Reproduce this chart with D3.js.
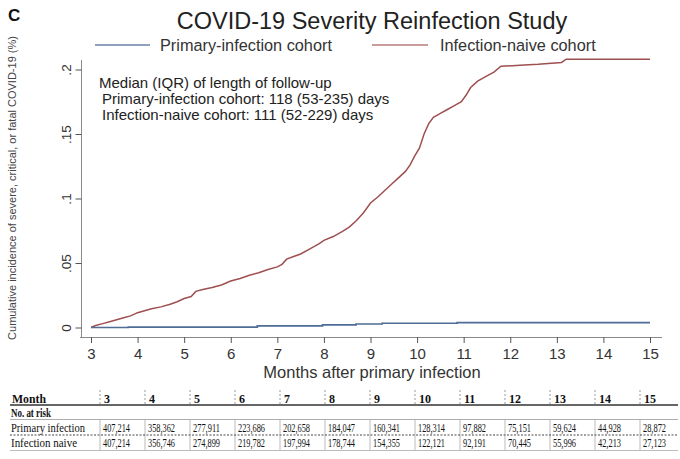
<!DOCTYPE html>
<html><head><meta charset="utf-8">
<script src="https://cdn.jsdelivr.net/npm/d3@7"></script>
<style>body{margin:0;background:#fff}svg{display:block}</style>
</head><body>
<svg id="c" width="680" height="459"></svg>
<script>
// ---- data ----
const naiveMonths = [3.0,3.1,3.25,3.4,3.55,3.7,3.85,4.0,4.15,4.3,4.5,4.7,4.85,5.0,5.15,5.25,5.4,5.6,5.8,6.0,6.2,6.4,6.6,6.8,7.0,7.1,7.2,7.35,7.5,7.7,7.9,8.0,8.2,8.4,8.55,8.7,8.85,9.0,9.15,9.3,9.45,9.6,9.75,9.85,9.95,10.05,10.15,10.25,10.35,10.5,10.65,10.8,10.95,11.05,11.15,11.3,11.5,11.65,11.8,12.3,12.6,13.1,13.2,15.0];
const naiveValues = [0,0.0015,0.003,0.0045,0.006,0.0075,0.009,0.0115,0.013,0.0145,0.016,0.018,0.020,0.0225,0.024,0.028,0.0295,0.031,0.033,0.036,0.038,0.0405,0.0425,0.045,0.047,0.049,0.053,0.055,0.057,0.061,0.065,0.0675,0.0705,0.0745,0.078,0.083,0.089,0.0965,0.101,0.106,0.111,0.116,0.121,0.126,0.133,0.139,0.150,0.158,0.163,0.166,0.169,0.172,0.175,0.180,0.186,0.191,0.195,0.198,0.2025,0.2035,0.204,0.2055,0.208,0.208];
const primaryMonths = [3.0,3.8,6.57,7.97,8.69,9.25,10.86,15.0];
const primaryValues = [0,0.0003,0.0012,0.002,0.0027,0.0033,0.0038,0.0038];
const xTicks = [3,4,5,6,7,8,9,10,11,12,13,14,15];
const yTicks = [0,0.05,0.1,0.15,0.2];
const yTickLabels = ["0",".05",".1",".15",".2"];
const tableMonths = ["3","4","5","6","7","8","9","10","11","12","13","14","15"];
const atRiskPrimary = ["407,214","358,362","277,911","223,686","202,658","184,047","160,341","128,314","97,882","75,151","59,624","44,928","28,872"];
const atRiskNaive = ["407,214","356,746","274,899","219,782","197,994","178,744","154,355","122,121","92,191","70,445","55,996","42,213","27,123"];
const seriesNames = ["Primary-infection cohort","Infection-naive cohort"];
const annotation = ["Median (IQR) of length of follow-up","Primary-infection cohort: 118 (53-235) days","Infection-naive cohort: 111 (52-229) days"];

// ---- drawing ----
const svg = d3.select("#c");
const sans = "'Liberation Sans', Arial, sans-serif";
const serif = "'Liberation Serif', 'Times New Roman', serif";
const blue = "#4f6c96", red = "#9e4f4f", axisCol = "#8a8a8a";

const x = d3.scaleLinear().domain([3,15]).range([91,650]);
const y = d3.scaleLinear().domain([0,0.2]).range([327.5,69.5]);

// panel letter + title
svg.append("text").attr("x",8).attr("y",21).attr("font-family",sans).attr("font-weight","bold")
  .attr("font-size",17).attr("fill","#111").text("C");
svg.append("text").attr("x",372).attr("y",29).attr("text-anchor","middle").attr("font-family",sans)
  .attr("font-size",23.5).attr("fill","#222").text("COVID-19 Severity Reinfection Study");

// legend
const leg = svg.append("g");
leg.append("line").attr("x1",95).attr("x2",150).attr("y1",45).attr("y2",45).attr("stroke",blue).attr("stroke-width",1.3).attr("stroke-opacity",0.85);
leg.append("text").attr("x",160).attr("y",51).attr("font-family",sans).attr("font-size",16.3).attr("fill","#333").text(seriesNames[0]);
leg.append("line").attr("x1",372).attr("x2",428).attr("y1",45).attr("y2",45).attr("stroke",red).attr("stroke-width",1.3).attr("stroke-opacity",0.75);
leg.append("text").attr("x",440).attr("y",51).attr("font-family",sans).attr("font-size",16.3).attr("fill","#333").text(seriesNames[1]);

// axes
const xAxis = d3.axisBottom(x).tickValues(xTicks).tickSize(6).tickPadding(5).tickFormat(d3.format("d"));
const gx = svg.append("g").attr("transform","translate(0,337)").call(xAxis);
gx.select(".domain").attr("d","M80,0.5H662").attr("stroke",axisCol);
gx.selectAll(".tick line").attr("stroke","#555");
gx.selectAll("text").attr("font-family",sans).attr("font-size",15).attr("fill","#333");

const yAxis = d3.axisLeft(y).tickValues(yTicks).tickSize(6).tickFormat((d,i)=>yTickLabels[i]);
const gy = svg.append("g").attr("transform","translate(81.5,0)").call(yAxis);
gy.select(".domain").attr("d","M0,60V337").attr("stroke",axisCol);
gy.selectAll(".tick line").attr("stroke","#555");
gy.selectAll(".tick text").attr("font-family",sans).attr("font-size",13.5).attr("fill","#333")
  .attr("text-anchor","middle").attr("x",0).attr("dy",0)
  .attr("transform","translate(-15,0) rotate(-90)").attr("y",0).attr("dominant-baseline","central");

svg.append("text").attr("transform","translate(16,188) rotate(-90)").attr("text-anchor","middle")
  .attr("font-family",sans).attr("font-size",11).attr("fill","#444")
  .text("Cumulative incidence of severe, critical, or fatal COVID-19 (%)");
svg.append("text").attr("x",372).attr("y",378).attr("text-anchor","middle").attr("font-family",sans)
  .attr("font-size",16.5).attr("fill","#333").text("Months after primary infection");

// annotation
annotation.forEach((t,i)=>{
  svg.append("text").attr("x",i===0?99:102).attr("y",88+i*16).attr("font-family",sans)
    .attr("font-size",15).attr("fill","#222").text(t);
});

// lines
const lineRed = d3.line().x(d=>x(d[0])).y(d=>y(d[1])).curve(d3.curveLinear);
const lineBlue = d3.line().x(d=>x(d[0])).y(d=>y(d[1])).curve(d3.curveStepAfter);
svg.append("path").datum(naiveMonths.map((m,i)=>[m,naiveValues[i]]))
  .attr("d",lineRed).attr("fill","none").attr("stroke",red).attr("stroke-width",1.5);
svg.append("path").datum(primaryMonths.map((m,i)=>[m,primaryValues[i]]))
  .attr("d",lineBlue).attr("fill","none").attr("stroke",blue).attr("stroke-width",1.7);

// risk table
const colX = d3.scaleLinear().domain([0,12]).range([100,640]);
const tb = svg.append("g").attr("font-family",serif).attr("fill","#111");
tableMonths.forEach((m,i)=>{
  tb.append("line").attr("x1",colX(i)).attr("x2",colX(i)).attr("y1",390).attr("y2",404)
    .attr("stroke","#999").attr("stroke-dasharray","2,2");
  tb.append("line").attr("x1",colX(i)).attr("x2",colX(i)).attr("y1",420).attr("y2",450)
    .attr("stroke","#aaa").attr("stroke-width",0.8);
});
tb.append("line").attr("x1",10).attr("x2",678).attr("y1",405).attr("y2",405).attr("stroke","#333").attr("stroke-width",1.4);
tb.append("line").attr("x1",10).attr("x2",678).attr("y1",419.5).attr("y2",419.5).attr("stroke","#999").attr("stroke-width",0.8);
tb.append("line").attr("x1",10).attr("x2",678).attr("y1",435).attr("y2",435).attr("stroke","#333").attr("stroke-dasharray","2,1.5").attr("stroke-width",0.9);
tb.append("line").attr("x1",10).attr("x2",678).attr("y1",450.5).attr("y2",450.5).attr("stroke","#aaa").attr("stroke-width",0.8);

tb.append("text").attr("x",12).attr("y",403).attr("font-size",12).attr("font-weight","bold").attr("textLength",34).attr("lengthAdjust","spacingAndGlyphs").text("Month");
tb.append("text").attr("x",11).attr("y",416.5).attr("font-size",11.5).attr("font-weight","bold").attr("textLength",40).attr("lengthAdjust","spacingAndGlyphs").text("No. at risk");
tb.append("text").attr("x",11).attr("y",431.5).attr("font-size",11.5).attr("textLength",74).attr("lengthAdjust","spacingAndGlyphs").text("Primary infection");
tb.append("text").attr("x",11).attr("y",446.5).attr("font-size",11.5).attr("textLength",66).attr("lengthAdjust","spacingAndGlyphs").text("Infection naive");

tableMonths.forEach((m,i)=>{
  tb.append("text").attr("x",colX(i)+4).attr("y",403).attr("font-size",12).attr("font-weight","bold").text(m);
  tb.append("text").attr("x",colX(i)+3).attr("y",431.5).attr("font-size",11.5)
    .attr("textLength",atRiskPrimary[i].length>6?27:23).attr("lengthAdjust","spacingAndGlyphs").text(atRiskPrimary[i]);
  tb.append("text").attr("x",colX(i)+3).attr("y",446.5).attr("font-size",11.5)
    .attr("textLength",atRiskNaive[i].length>6?27:23).attr("lengthAdjust","spacingAndGlyphs").text(atRiskNaive[i]);
});
</script>
</body></html>
